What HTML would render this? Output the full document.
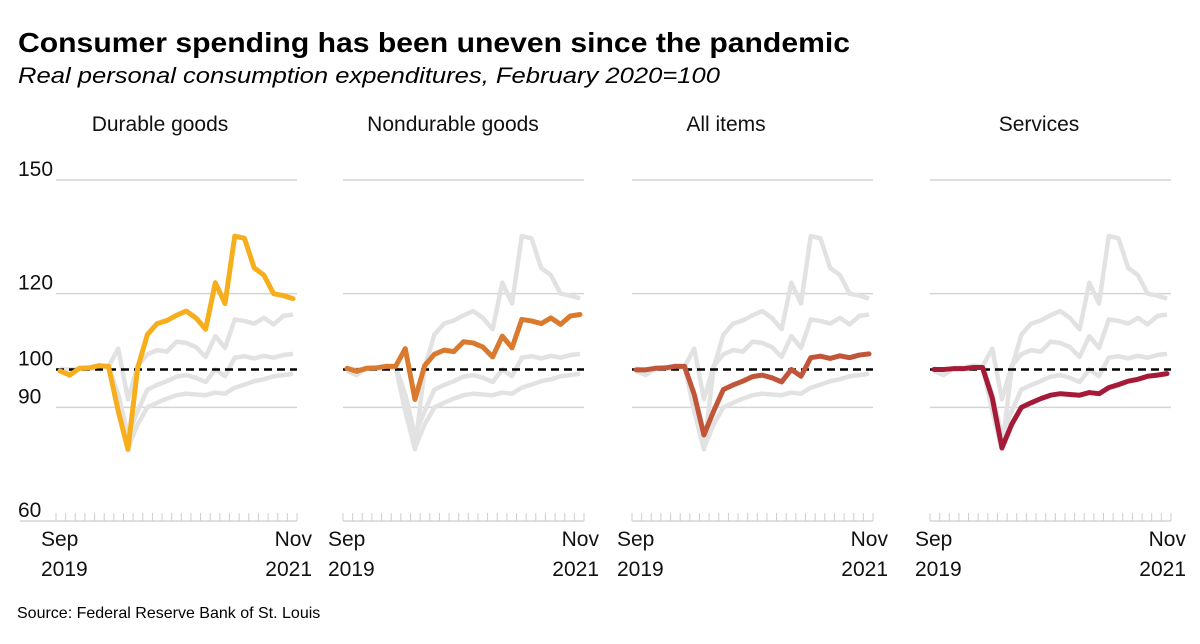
<!DOCTYPE html>
<html><head><meta charset="utf-8"><style>
html,body{margin:0;padding:0;background:#fff;}
svg{display:block;font-family:"Liberation Sans",sans-serif;}
</style></head><body>
<svg id="chart" width="1200" height="644" viewBox="0 0 1200 644">
<text x="18" y="52" font-size="28" font-weight="bold" fill="#000" textLength="832" lengthAdjust="spacingAndGlyphs">Consumer spending has been uneven since the pandemic</text>
<text x="18" y="83" font-size="22" font-style="italic" fill="#000" textLength="702" lengthAdjust="spacingAndGlyphs">Real personal consumption expenditures, February 2020=100</text>
<text x="17" y="618" font-size="16" fill="#000">Source: Federal Reserve Bank of St. Louis</text>
<g id="panels"></g>
</svg>
<script>
const categories = ["Durable goods","Nondurable goods","All items","Services"];
const durable = [99.6,98.5,100.3,100.4,101,100.8,89,78.9,100.4,109.2,112.1,112.9,114.3,115.4,113.6,110.6,122.9,117.4,135.2,134.6,126.8,124.9,120,119.5,118.7];
const nondurable = [100.3,99.5,100.3,100.4,100.8,100.8,105.5,92.1,101,104,105.1,104.7,107.3,107,105.9,103.3,108.8,105.7,113.2,112.8,112.1,113.6,111.9,114.1,114.5];
const allItems = [99.9,99.9,100.3,100.4,100.8,100.8,93.4,82.7,89,94.7,95.9,96.9,98.1,98.5,97.8,96.7,100,98.2,103.1,103.5,102.9,103.6,103.1,103.8,104.1];
const services = [100,100,100.2,100.2,100.5,100.5,92.5,79.3,85.5,90,91.2,92.3,93.2,93.6,93.4,93.2,93.9,93.6,95.2,96,96.9,97.4,98.2,98.5,98.9];
const yTicks = [150,120,100,90,60];
const gridTicks = [150,120,90];
const xLabelsStart = ["Sep","2019"];
const xLabelsEnd = ["Nov","2021"];

const seriesList = [durable, nondurable, allItems, services];
const colors = ["#f6ae1d","#d97a2e","#c0553a","#a51b37"];
const panelLeft = [56,343,632,930];
const titleCenter = [160,453,726,1039];
const panelW = 241;
const NS = "http://www.w3.org/2000/svg";
const g = document.getElementById("panels");
function y(v){ return 180 + (150 - v) * (341/90); }
function mk(tag, attrs, parent){ const e=document.createElementNS(NS,tag); for(const k in attrs) e.setAttribute(k,attrs[k]); (parent||g).appendChild(e); return e; }

categories.forEach((cat, p) => {
  const L = panelLeft[p], R = L + panelW;
  const pg = mk("g", {});
  
  
  const x = i => (L + 4) + i * ((panelW - 8) / (seriesList[p].length - 1));
  const t = mk("text", {x: titleCenter[p], y: 131, "font-size": 21, "text-anchor":"middle", fill:"#111"}, pg);
  t.textContent = cat;
  
  
  gridTicks.forEach(v => {
    const gl = mk("line", {x1: L, x2: R, y1: y(v), y2: y(v), stroke:"#d4d4d4", "stroke-width":1.5}, pg);
    
    
  });
  if (p === 0) {
    yTicks.forEach(v => {
      const tl = mk("text", {x: 18, y: y(v) - 4, "font-size": 21, fill:"#111"}, pg);
      tl.textContent = v;
      
      
    });
  }
  const ax = mk("line", {x1: p === 0 ? 20 : L, x2: R, y1: 521, y2: 521, stroke:"#ccc", "stroke-width":1.2}, pg);
  
  
  for (let i = 0; i < 26; i++) {
    const tx = L + i * (panelW / 25);
    const tk = mk("line", {x1: tx, x2: tx, y1: 513, y2: 521, stroke:"#ccc", "stroke-width":1}, pg);
    
    
  }
  xLabelsStart.forEach((s, k) => {
    const e = mk("text", {x: L - 15, y: 546 + k*30, "font-size": 21, fill:"#111"}, pg);
    e.textContent = s;
    
    
  });
  xLabelsEnd.forEach((s, k) => {
    const e = mk("text", {x: R + 15, y: 546 + k*30, "font-size": 21, fill:"#111", "text-anchor":"end"}, pg);
    e.textContent = s;
    
    
  });
  seriesList.forEach((s, j) => {
    if (j === p) return;
    const gp = mk("polyline", {points: s.map((v,i)=>x(i)+","+y(v)).join(" "), fill:"none", stroke:"#e2e2e3", "stroke-width":4.5, "stroke-linejoin":"round"}, pg);
    
    
  });
  const dl = mk("line", {x1: L, x2: R, y1: y(100), y2: y(100), stroke:"#000", "stroke-width":2.5, "stroke-dasharray":"8,5"}, pg);
  
  
  const ml = mk("polyline", {points: seriesList[p].map((v,i)=>x(i)+","+y(v)).join(" "), fill:"none", stroke: colors[p], "stroke-width":5, "stroke-linejoin":"round", "stroke-linecap":"round"}, pg);
  
  
});
</script>
</body></html>
